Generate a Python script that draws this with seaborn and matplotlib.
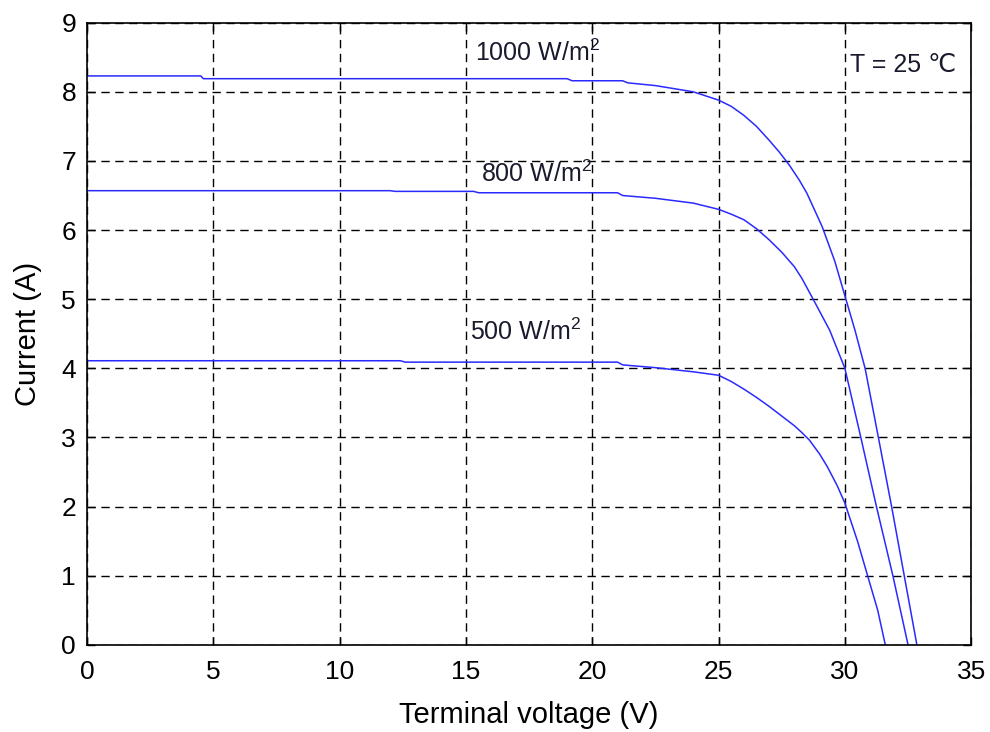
import pandas as pd
import matplotlib
matplotlib.use('Agg')
import matplotlib.pyplot as plt
import seaborn as sns

# I-V curve values (voltage in V, current in A)
v_1000 = [0, 4.5, 4.6, 19.0, 19.2, 21.2, 21.4, 22.5, 24, 25, 25.5, 26, 26.5, 27, 27.4, 27.8, 28.2, 28.5, 29.1, 29.6, 30.0, 30.4, 30.8, 31.3, 31.85, 32.35, 32.85]
i_1000 = [8.23, 8.23, 8.19, 8.19, 8.16, 8.16, 8.13, 8.09, 8.0, 7.88, 7.79, 7.66, 7.5, 7.3, 7.13, 6.94, 6.72, 6.53, 6.05, 5.55, 5.05, 4.55, 4.0, 3.05, 2.0, 1.0, 0.0]

v_800 = [0, 12.0, 12.2, 15.3, 15.5, 21.0, 21.2, 22.5, 24, 25, 25.5, 26, 26.5, 27, 27.5, 28, 28.3, 28.7, 29.4, 30.0, 30.6, 31.25, 31.9, 32.5]
i_800 = [6.57, 6.57, 6.56, 6.56, 6.54, 6.54, 6.50, 6.46, 6.39, 6.3, 6.23, 6.15, 6.02, 5.86, 5.68, 5.47, 5.3, 5.03, 4.55, 4.0, 3.05, 2.0, 1.0, 0.0]

v_500 = [0, 12.4, 12.6, 21.0, 21.2, 22.5, 24, 25, 25.5, 26, 26.5, 27, 27.5, 28, 28.3, 28.6, 29.0, 29.3, 29.7, 30.0, 30.5, 30.9, 31.3, 31.6]
i_500 = [4.11, 4.11, 4.09, 4.09, 4.05, 4.01, 3.95, 3.9, 3.81, 3.7, 3.58, 3.45, 3.31, 3.17, 3.07, 2.96, 2.76, 2.58, 2.3, 2.05, 1.5, 1.0, 0.5, 0.0]

labels = ['1000 W/m$^2$', '800 W/m$^2$', '500 W/m$^2$']
label_pos = [(15.35, 8.44), (15.6, 6.70), (15.15, 4.41)]

df = pd.concat([
    pd.DataFrame({'V': v_1000, 'I': i_1000, 'G': '1000'}),
    pd.DataFrame({'V': v_800, 'I': i_800, 'G': '800'}),
    pd.DataFrame({'V': v_500, 'I': i_500, 'G': '500'}),
])

sns.set_style('ticks')
plt.rcParams['font.family'] = ['Liberation Sans', 'DejaVu Sans']
plt.rcParams['mathtext.fontset'] = 'custom'
plt.rcParams['mathtext.rm'] = 'Liberation Sans'
plt.rcParams['mathtext.it'] = 'Liberation Sans'

fig = plt.figure(figsize=(9.9, 7.32), dpi=100)
ax = fig.add_axes([0.088, 0.119, 0.893, 0.850])

sns.lineplot(data=df, x='V', y='I', hue='G', palette=['#2a2aff'] * 3,
             sort=False, estimator=None, legend=False, linewidth=1.1, ax=ax)

ax.set_xlim(0, 35)
ax.set_ylim(0, 9)
ax.set_xticks(range(0, 36, 5))
ax.set_yticks(range(0, 10))
ax.grid(True, color='black', linestyle=(0, (6, 4)), linewidth=1.0)
ax.tick_params(direction='in', length=6, width=1, labelsize=19,
               top=True, right=True, colors='black')
ax.tick_params(axis='x', pad=11)
ax.tick_params(axis='y', pad=8)
for s in ax.spines.values():
    s.set_color('black')
    s.set_linewidth(1.2)

ax.set_xlabel('Terminal voltage (V)', fontsize=21, labelpad=12, color='black')
ax.set_ylabel('Current (A)', fontsize=21, labelpad=14, color='black')

for txt, (x, y) in zip(labels, label_pos):
    ax.text(x, y, txt, fontsize=18, color='#1a1a2e')
ax.text(30.2, 8.28, 'T = 25 \u2103', fontsize=18, color='#1a1a2e')

plt.savefig('out.png', dpi=100)
